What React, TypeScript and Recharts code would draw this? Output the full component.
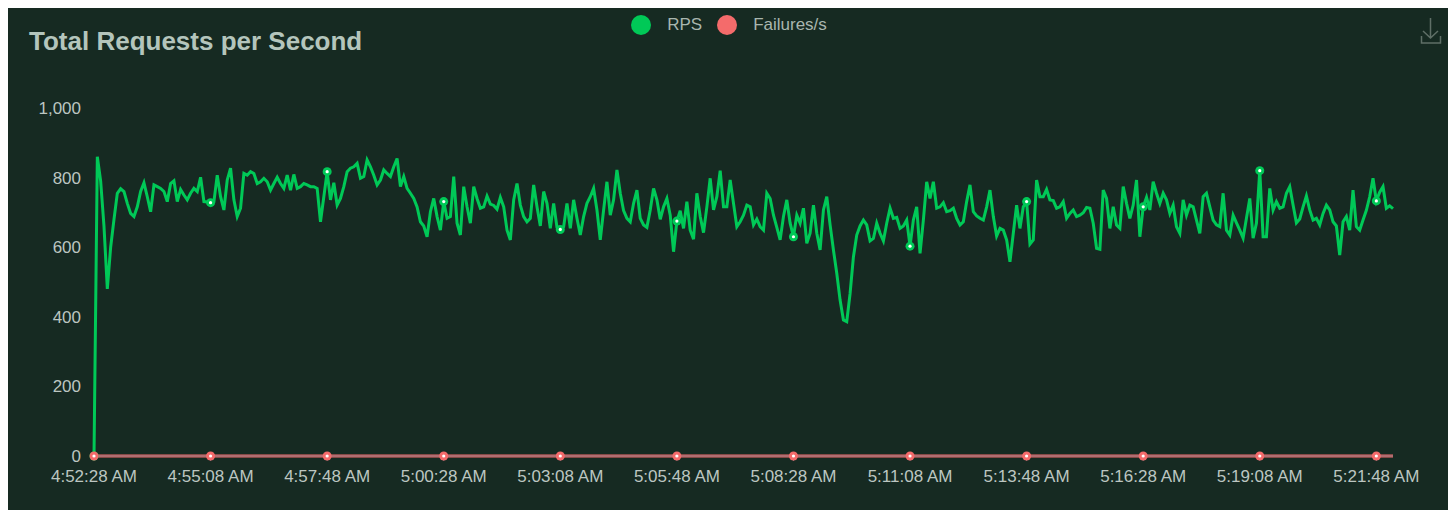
import { LineChart, Line, XAxis, YAxis } from 'recharts';

// x-axis tick labels, one every 35 samples
const TICK_LABELS = [
  '4:52:28 AM', '4:55:08 AM', '4:57:48 AM', '5:00:28 AM', '5:03:08 AM', '5:05:48 AM',
  '5:08:28 AM', '5:11:08 AM', '5:13:48 AM', '5:16:28 AM', '5:19:08 AM', '5:21:48 AM',
];
const POINTS_PER_TICK = 35;
const Y_TICKS = [0, 200, 400, 600, 800, 1000];

// requests per second, one row per tick interval
const rps = [
  0, 860, 790, 660, 480, 600, 680, 755, 768, 760, 726, 697, 688, 716, 760, 785, 745, 702, 779, 774, 769, 760, 731, 783, 791, 731, 766, 750, 736, 755, 769, 760, 801, 731, 730,
  728, 731, 807, 745, 707, 793, 827, 736, 688, 712, 812, 807, 817, 812, 783, 788, 798, 788, 764, 783, 801, 783, 769, 807, 764, 809, 769, 774, 783, 779, 774, 774, 769, 673, 745,
  817, 736, 785, 721, 740, 774, 817, 827, 831, 841, 798, 803, 851, 831, 807, 779, 793, 822, 812, 803, 831, 855, 774, 803, 769, 755, 740, 716, 673, 661, 630, 702, 740, 688, 649,
  731, 683, 688, 803, 669, 635, 774, 716, 669, 774, 740, 712, 716, 747, 724, 720, 709, 743, 716, 649, 621, 736, 783, 721, 688, 673, 683, 779, 716, 661, 760, 726, 654, 726, 657,
  651, 659, 726, 654, 736, 683, 635, 688, 726, 745, 769, 707, 621, 707, 788, 692, 736, 822, 755, 705, 683, 673, 726, 764, 683, 664, 657, 707, 769, 736, 680, 716, 740, 692, 587,
  675, 705, 654, 731, 649, 623, 755, 688, 642, 716, 798, 707, 745, 820, 716, 716, 793, 726, 659, 673, 692, 721, 716, 664, 681, 659, 649, 755, 740, 692, 657, 621, 688, 736, 669,
  630, 692, 669, 712, 611, 640, 721, 640, 592, 707, 745, 664, 592, 525, 448, 391, 386, 467, 572, 635, 661, 678, 664, 618, 625, 669, 640, 618, 669, 712, 683, 686, 654, 661, 678,
  603, 678, 716, 582, 678, 788, 740, 788, 712, 716, 728, 702, 705, 712, 683, 664, 673, 731, 779, 702, 690, 683, 678, 716, 764, 688, 632, 654, 649, 621, 558, 640, 721, 654, 716,
  731, 609, 621, 793, 745, 745, 766, 736, 734, 712, 716, 731, 683, 697, 707, 688, 692, 699, 714, 712, 669, 597, 594, 764, 740, 654, 716, 664, 654, 774, 726, 683, 721, 793, 630,
  716, 743, 707, 788, 755, 726, 755, 736, 697, 721, 659, 640, 736, 692, 721, 716, 678, 640, 745, 755, 716, 678, 664, 659, 755, 649, 635, 692, 670, 649, 626, 683, 740, 626, 669,
  820, 630, 630, 769, 707, 731, 712, 716, 755, 774, 721, 670, 681, 716, 747, 707, 678, 683, 664, 697, 721, 707, 673, 661, 577, 673, 688, 649, 764, 659, 649, 678, 706, 745, 798,
  733, 758, 774, 712, 719, 711,
];

// failures per second
const failures = [
  0, 0, 0, 0, 0, 0, 0, 0, 0, 0, 0, 0, 0, 0, 0, 0, 0, 0, 0, 0, 0, 0, 0, 0, 0, 0, 0, 0, 0, 0, 0, 0, 0, 0, 0,
  0, 0, 0, 0, 0, 0, 0, 0, 0, 0, 0, 0, 0, 0, 0, 0, 0, 0, 0, 0, 0, 0, 0, 0, 0, 0, 0, 0, 0, 0, 0, 0, 0, 0, 0,
  0, 0, 0, 0, 0, 0, 0, 0, 0, 0, 0, 0, 0, 0, 0, 0, 0, 0, 0, 0, 0, 0, 0, 0, 0, 0, 0, 0, 0, 0, 0, 0, 0, 0, 0,
  0, 0, 0, 0, 0, 0, 0, 0, 0, 0, 0, 0, 0, 0, 0, 0, 0, 0, 0, 0, 0, 0, 0, 0, 0, 0, 0, 0, 0, 0, 0, 0, 0, 0, 0,
  0, 0, 0, 0, 0, 0, 0, 0, 0, 0, 0, 0, 0, 0, 0, 0, 0, 0, 0, 0, 0, 0, 0, 0, 0, 0, 0, 0, 0, 0, 0, 0, 0, 0, 0,
  0, 0, 0, 0, 0, 0, 0, 0, 0, 0, 0, 0, 0, 0, 0, 0, 0, 0, 0, 0, 0, 0, 0, 0, 0, 0, 0, 0, 0, 0, 0, 0, 0, 0, 0,
  0, 0, 0, 0, 0, 0, 0, 0, 0, 0, 0, 0, 0, 0, 0, 0, 0, 0, 0, 0, 0, 0, 0, 0, 0, 0, 0, 0, 0, 0, 0, 0, 0, 0, 0,
  0, 0, 0, 0, 0, 0, 0, 0, 0, 0, 0, 0, 0, 0, 0, 0, 0, 0, 0, 0, 0, 0, 0, 0, 0, 0, 0, 0, 0, 0, 0, 0, 0, 0, 0,
  0, 0, 0, 0, 0, 0, 0, 0, 0, 0, 0, 0, 0, 0, 0, 0, 0, 0, 0, 0, 0, 0, 0, 0, 0, 0, 0, 0, 0, 0, 0, 0, 0, 0, 0,
  0, 0, 0, 0, 0, 0, 0, 0, 0, 0, 0, 0, 0, 0, 0, 0, 0, 0, 0, 0, 0, 0, 0, 0, 0, 0, 0, 0, 0, 0, 0, 0, 0, 0, 0,
  0, 0, 0, 0, 0, 0, 0, 0, 0, 0, 0, 0, 0, 0, 0, 0, 0, 0, 0, 0, 0, 0, 0, 0, 0, 0, 0, 0, 0, 0, 0, 0, 0, 0, 0,
  0, 0, 0, 0, 0, 0,
];

const data = rps.map((v, i) => ({ idx: i, rps: v, failures: failures[i] }));
const tickIdx = TICK_LABELS.map((_, k) => k * POINTS_PER_TICK);

const BG = '#162a22';
const GREEN = '#00c957';
const RED = '#f46b6b';
const TEXT = '#bcc6c1';
const FONT = '"Liberation Sans", Arial, Helvetica, sans-serif';

const markerDot = (color: string) => (props: any) => {
  const { cx, cy, index } = props;
  if (index % POINTS_PER_TICK !== 0) return <g key={`m-${color}-${index}`} />;
  return (
    <g key={`m-${color}-${index}`}>
      <circle cx={cx} cy={cy} r={4.5} fill={color} />
      <circle cx={cx} cy={cy} r={1.6} fill="#ffffff" />
    </g>
  );
};

const LegendItem = ({ color, label }: { color: string; label: string }) => (
  <div style={{ display: 'flex', alignItems: 'center', gap: 16 }}>
    <span style={{ width: 20, height: 20, borderRadius: 10, background: color, display: 'inline-block' }} />
    <span style={{ color: '#a9b6af', fontSize: 17 }}>{label}</span>
  </div>
);

export default function App() {
  return (
    <div
      style={{
        position: 'relative',
        marginLeft: -2,
        width: 1446,
        height: 510,
        background: BG,
        fontFamily: FONT,
        overflow: 'hidden',
      }}
    >
      <div
        style={{
          position: 'absolute',
          left: 23,
          top: 20,
          fontSize: 26,
          lineHeight: 1,
          fontWeight: 700,
          color: '#b4c5bc',
          whiteSpace: 'nowrap',
        }}
      >
        Total Requests per Second
      </div>

      <div
        style={{
          position: 'absolute',
          top: 7,
          left: 0,
          width: 1446,
          display: 'flex',
          justifyContent: 'center',
          gap: 15,
        }}
      >
        <LegendItem color={GREEN} label="RPS" />
        <LegendItem color={RED} label="Failures/s" />
      </div>

      <svg
        style={{ position: 'absolute', left: 1414, top: 8 }}
        width={24}
        height={30}
        viewBox="0 0 24 30"
        fill="none"
        stroke="#5f6f67"
        strokeWidth={1.5}
      >
        <path d="M10.5 2 V22 M3 15 L10.5 22 L18 15 M1.5 20 V27 H20.5 V20" />
      </svg>

      <LineChart
        width={1446}
        height={502}
        data={data}
        margin={{ top: 100, right: 59, bottom: 0, left: 0 }}
        style={{ position: 'absolute', left: 0, top: 0 }}
      >
        <XAxis
          type="number"
          dataKey="idx"
          domain={[0, rps.length - 1]}
          ticks={tickIdx}
          interval={0}
          height={54}
          tickFormatter={(v: number) => TICK_LABELS[Math.round(v / POINTS_PER_TICK)]}
          stroke="#6e7079"
          tickSize={5}
          tickMargin={9}
          tick={{ fill: TEXT, fontSize: 17, fontFamily: FONT }}
        />
        <YAxis
          domain={[0, 1000]}
          ticks={Y_TICKS}
          width={88}
          axisLine={false}
          tickLine={false}
          tickSize={0}
          tickMargin={13}
          tickFormatter={(v: number) => v.toLocaleString('en-US')}
          tick={{ fill: TEXT, fontSize: 17, fontFamily: FONT }}
        />
        <Line
          type="linear"
          dataKey="rps"
          name="RPS"
          stroke={GREEN}
          strokeWidth={3}
          dot={markerDot(GREEN)}
          activeDot={false}
          isAnimationActive={false}
        />
        <Line
          type="linear"
          dataKey="failures"
          name="Failures/s"
          stroke={RED}
          strokeWidth={3}
          dot={markerDot(RED)}
          activeDot={false}
          isAnimationActive={false}
        />
      </LineChart>
    </div>
  );
}
